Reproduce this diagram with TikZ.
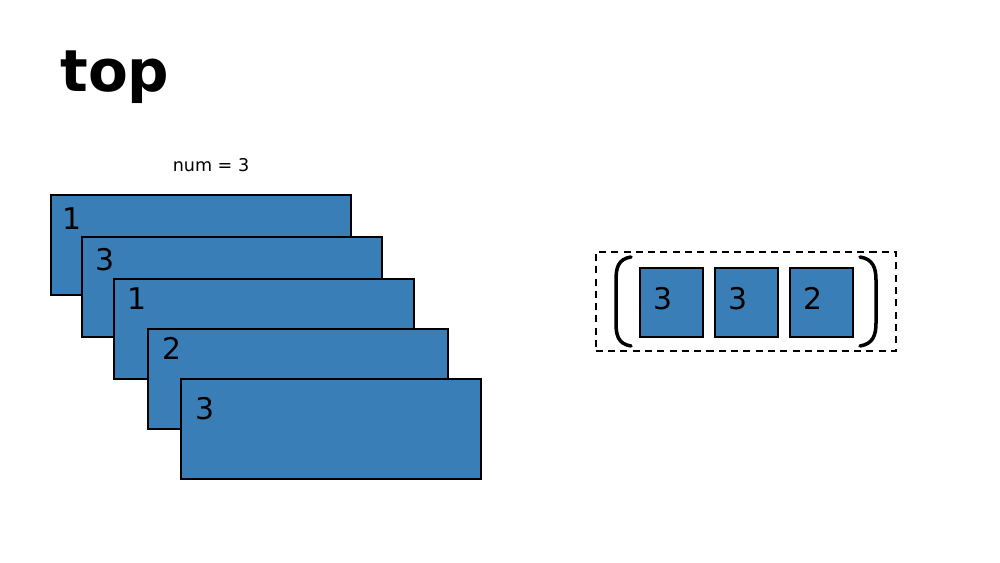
\documentclass[tikz,border=0pt]{standalone}
\usepackage{fontspec}
\setmainfont{DejaVu Sans}
\definecolor{cardblue}{RGB}{58,126,184}
\tikzset{
  card/.style={draw=black, fill=cardblue, line width=1pt, anchor=north west,
    minimum width=6cm, minimum height=2cm, inner sep=0pt},
  cell/.style={draw=black, fill=cardblue, line width=1pt, anchor=north west,
    minimum width=1.26cm, minimum height=1.38cm, inner sep=0pt},
  digit/.style={anchor=north west, inner sep=0pt, font=\fontsize{17}{17}\selectfont},
  paren/.style={line width=2pt, line cap=round},
}

\begin{document}
\begin{tikzpicture}[x=0.02cm, y=-0.02cm]
  \useasboundingbox (0,0) rectangle (1000,563);
  \node[anchor=base west, inner sep=0pt, font=\fontsize{33}{33}\selectfont\bfseries] (title) at (60,92) {top};
  \node[font=\fontsize{10}{10}\selectfont] (num) at (211,165) {num = 3};
  % stacked cards
  \foreach \i/\x/\y/\dx/\dy/\v in {1/50/194/12/13/1, 2/81/236/14/12/3, 3/113/278/14/9/1, 4/147/328/15/9/2, 5/180/378/15/19/3} {
    \node[card] (card\i) at (\x,\y) {};
    \node[digit] (val\i) at ([shift={(\dx,\dy)}]card\i.north west) {\v};
  }
  % result array
  \node[draw, dashed, line width=0.9pt, dash pattern=on 4pt off 3pt, anchor=north west,
    minimum width=6cm, minimum height=1.98cm, inner sep=0pt] (frame) at (595,251) {};
  \foreach \i/\x/\v in {1/639/3, 2/714/3, 3/789/2} {
    \node[cell] (cell\i) at (\x,267) {};
    \node[digit] (res\i) at ([shift={(14,20)}]cell\i.north west) {\v};
  }
  \draw[paren] (631,257) .. controls (618,259) and (616,268) .. (616,280)
    -- (616,323) .. controls (616,335) and (618,344) .. (631,346);
  \draw[paren] (860,257) .. controls (873,259) and (876,268) .. (876,280)
    -- (876,323) .. controls (876,335) and (873,344) .. (860,346);
\end{tikzpicture}
\end{document}
